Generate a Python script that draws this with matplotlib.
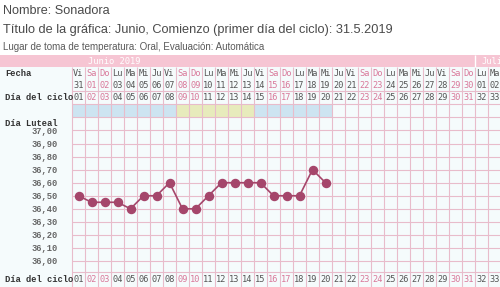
import matplotlib.pyplot as plt
import numpy as np

# chart data
cycle_days = np.arange(1, 34)
day_names = (['Vi', 'Sa', 'Do', 'Lu', 'Ma', 'Mi', 'Ju'] * 5)[:33]
dates = ['31'] + ['%02d' % d for d in range(1, 31)] + ['01', '02']
temp_days = np.arange(1, 21)
temps = [36.50, 36.45, 36.45, 36.45, 36.40, 36.50, 36.50, 36.60, 36.40, 36.40,
         36.50, 36.60, 36.60, 36.60, 36.60, 36.50, 36.50, 36.50, 36.70, 36.60]
phase_days = np.arange(1, 21)
phase_kind = ['b'] * 8 + ['y'] * 6 + ['b'] * 6
y_ticks = np.arange(36.0, 37.001, 0.1)

W, H = 500, 287
COL = 13.0          # px per day column
X0 = 72.0           # px where day 1 starts
GRID = '#e8bccb'
TXT = '#555555'
WEEKEND = '#d9789a'
mono = 'DejaVu Sans Mono'
label_font = 'Liberation Mono'

fig = plt.figure(figsize=(W / 100, H / 100), dpi=100)
fig.patch.set_facecolor('white')


def fx(px):
    return px / W


def fy(py):
    return 1 - py / H


# table axes: x in days, y in pixels
tab = fig.add_axes([0, 0, 1, 1])
tab.set_xlim(0.5 - X0 / COL, 0.5 + (W - X0) / COL)
tab.set_ylim(H, 0)
tab.axis('off')

# table background and header band
tab.axhspan(55, H, color='#f5fbfc', lw=0, zorder=0)
tab.axhspan(55, 67, color='#f6c5d3', lw=0, zorder=0)

# phase band
colors = ['#cde4f1' if k == 'b' else '#e7ebbc' for k in phase_kind]
tab.bar(phase_days, 13, bottom=104, width=1, color=colors, zorder=1)

# column lines and row lines
tab.vlines(np.arange(0.5, 34.5), 67, H, color=GRID, lw=0.8, zorder=2)
tab.vlines(31.5, 55, 67, color='white', lw=1, zorder=2)
for yy in [90.5, 104, 117, 272]:
    tab.hlines(yy, 0.5, 34, color=GRID, lw=0.8, zorder=2)

# header text
tab.text(0.5 + 16 / COL, 61.5, 'Junio 2019', color='white', fontsize=6.3,
         family=mono, ha='left', va='center')
tab.text(31.5 + 6 / COL, 61.5, 'Julio', color='white', fontsize=6.3,
         family=mono, ha='left', va='center')

for d, name, date in zip(cycle_days, day_names, dates):
    c = WEEKEND if name in ('Sa', 'Do') else TXT
    tab.text(d, 74, name, color=c, fontsize=6.2, family=mono, ha='center', va='center')
    tab.text(d, 85, date, color=c, fontsize=6.2, family=mono, ha='center', va='center')
    tab.text(d, 98, '%02d' % d, color=c, fontsize=6.2, family=mono, ha='center', va='center')
    tab.text(d, 280, '%02d' % d, color=c, fontsize=6.2, family=mono, ha='center', va='center')

# left labels
for txt, yy in [('Fecha', 74), ('Día del ciclo', 98), ('Día Luteal', 123), ('Día del ciclo', 280)]:
    tab.text(0.5 + (5 - X0) / COL, yy, txt, color='#333333', fontsize=6.3, family=label_font,
             weight='bold', ha='left', va='center')

# top info
fig.text(fx(3), fy(11), 'Nombre: Sonadora', color='#4a4a4a', fontsize=9.1,
         family='Liberation Sans', va='center')
fig.text(fx(3), fy(30), 'Título de la gráfica: Junio, Comienzo (primer día del ciclo): 31.5.2019',
         color='#4a4a4a', fontsize=9.2, family='Liberation Sans', va='center')
fig.text(fx(3), fy(46.5), 'Lugar de toma de temperatura: Oral, Evaluación: Automática',
         color='#5a5a5a', fontsize=7, family='Liberation Sans', va='center')

# temperature axes
ax = fig.add_axes([fx(X0), fy(272), (W + 1 - X0) / W, fy(117) - fy(272)])
ax.patch.set_alpha(0)
ax.set_xlim(0.5, 33.5)
ax.set_ylim(36.0 - 11 / 130.5, 37.0 + 13.5 / 130.5)
for s in ax.spines.values():
    s.set_visible(False)
ax.set_xticks([])
ax.set_yticks(y_ticks)
ax.set_yticklabels([('%.2f' % v).replace('.', ',') for v in y_ticks],
                   family=label_font, fontsize=6.3, color='#666666', weight='bold')
ax.tick_params(axis='y', length=0, pad=10)
ax.grid(axis='y', color=GRID, lw=0.8)
ax.set_axisbelow(True)

ax.plot(temp_days, temps, color='#a5466b', lw=1.2, marker='o', ms=5.8,
        markerfacecolor='#a5466b', markeredgecolor='#a5466b', zorder=5)

fig.savefig('out.png', dpi=100)
